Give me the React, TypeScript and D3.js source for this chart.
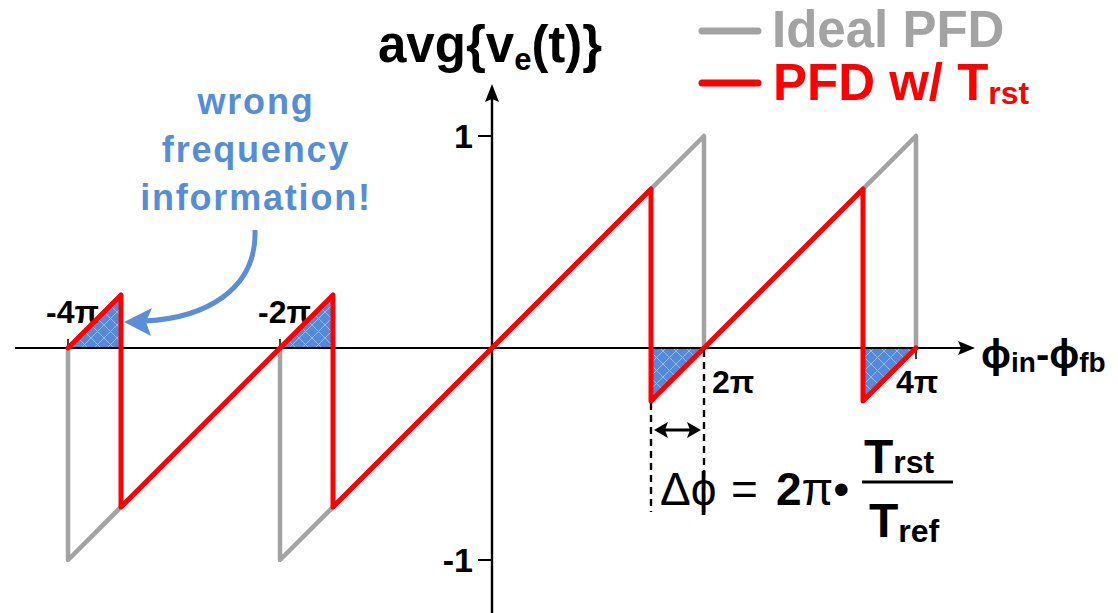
import React from "react";
import * as d3 from "d3";

// phase in units of π, value in units of "1"
const idealPhi = [-4, -4, -2, -2, 0, 2, 2, 4, 4];
const idealVal = [0, -1, 0, -1, 0, 1, 0, 1, 0];
const trstPhi = [-4, -3.5, -3.5, -1.5, -1.5, 1.5, 1.5, 3.5, 3.5, 4];
const trstVal = [0, 0.25, -0.75, 0.25, -0.75, 0.75, -0.25, 0.75, -0.25, 0];
const hatchPhi = [[-4, -3.5, -3.5], [-2, -1.5, -1.5], [1.5, 1.5, 2], [3.5, 3.5, 4]];
const hatchVal = [[0, 0.25, 0], [0, 0.25, 0], [0, -0.25, 0], [0, -0.25, 0]];
const xTicks = [-4, -2, 2, 4];
const xTickLabels = ["-4π", "-2π", "2π", "4π"];
const yTicks = [1, -1];
const yTickLabels = ["1", "-1"];
const legendLabels = ["Ideal PFD", "PFD w/ T"];
const annotationLines = ["wrong", "frequency", "information!"];

const W = 1118, H = 613;
const FONT = "'Liberation Sans', Arial, sans-serif";

export default function App() {
  const x = d3.scaleLinear().domain([-4, 4]).range([68, 916]);
  const y = d3.scaleLinear().domain([-1, 1]).range([560, 136]);
  const line = d3.line<[number, number]>().x(d => x(d[0])).y(d => y(d[1]));
  const idealPts = idealPhi.map((p, i) => [p, idealVal[i]] as [number, number]);
  const trstPts = trstPhi.map((p, i) => [p, trstVal[i]] as [number, number]);
  const x0 = x(0), y0 = y(0);
  const gray = "#a3a3a3";
  const red = "#ff0000";
  const blue = "#558ed5";

  return (
    <svg width={W} height={H} style={{ position: "absolute", left: 0, top: 0, display: "block", background: "#fff" }} fontFamily={FONT}>
      <defs>
        <pattern id="hatch" patternUnits="userSpaceOnUse" width={13} height={13}>
          <rect width={13} height={13} fill="#558ad8" />
          <path d="M0,0 L13,13 M13,0 L0,13" stroke="#97b7ea" strokeWidth={1} />
        </pattern>
      </defs>

      {/* ideal PFD */}
      <path d={line(idealPts) || ""} fill="none" stroke={gray} strokeWidth={4.5} strokeLinejoin="round" />

      {/* hatched error regions */}
      {hatchPhi.map((ph, i) => (
        <path key={i} d={(line(ph.map((p, j) => [p, hatchVal[i][j]] as [number, number])) || "") + "Z"} fill="url(#hatch)" />
      ))}

      {/* axes */}
      <line x1={15} y1={y0} x2={962} y2={y0} stroke="#000" strokeWidth={2.2} />
      <path d={`M975,${y0} L958,${y0 - 7} L961,${y0} L958,${y0 + 7} Z`} fill="#000" />
      <line x1={x0} y1={H} x2={x0} y2={98} stroke="#000" strokeWidth={2.4} />
      <path d={`M${x0},84 L${x0 - 7},102 L${x0},99 L${x0 + 7},102 Z`} fill="#000" />

      {/* x ticks */}
      {xTicks.map((t, i) => (
        <g key={t}>
          {t < 0 && <line x1={x(t)} x2={x(t)} y1={y0 - 9} y2={y0} stroke="#000" strokeWidth={1.5} />}
          {t > 2 && <line x1={x(t)} x2={x(t)} y1={y0} y2={y0 + 11} stroke="#000" strokeWidth={1.5} />}
          <text
            x={t < 0 ? x(t) - 22 : x(t) + 8 - (t > 2 ? 28 : 0)}
            y={t < 0 ? y0 - 25 : y0 + 45}
            fontSize={32}
            fontWeight="bold"
            fill="#000"
          >{xTickLabels[i]}</text>
        </g>
      ))}

      {/* y ticks */}
      {yTicks.map((t, i) => (
        <g key={t}>
          <line x1={x0 - 14} x2={x0} y1={y(t)} y2={y(t)} stroke="#000" strokeWidth={2} />
          <text x={x0 - 19} y={y(t) + 12} fontSize={34} fontWeight="bold" textAnchor="end" fill="#000">{yTickLabels[i]}</text>
        </g>
      ))}

      {/* PFD with reset delay */}
      <path d={line(trstPts) || ""} fill="none" stroke={red} strokeWidth={5} strokeLinejoin="round" strokeLinecap="round" />

      {/* Δφ dashed markers */}
      <line x1={x(1.5)} x2={x(1.5)} y1={y(-0.25) + 2} y2={512} stroke="#000" strokeWidth={2.4} strokeDasharray="7,5" />
      <line x1={x(2)} x2={x(2)} y1={y0 + 2} y2={512} stroke="#000" strokeWidth={2.4} strokeDasharray="7,5" />
      <line x1={x(1.5) + 8} x2={x(2) - 8} y1={430} y2={430} stroke="#000" strokeWidth={3} />
      <path d={`M${x(1.5) + 3},430 L${x(1.5) + 17},422 L${x(1.5) + 14},430 L${x(1.5) + 17},438 Z`} fill="#000" />
      <path d={`M${x(2) - 3},430 L${x(2) - 17},422 L${x(2) - 14},430 L${x(2) - 17},438 Z`} fill="#000" />

      {/* title */}
      <text x={378} y={62} fontSize={51} fontWeight="bold" fill="#000">
        avg{"{"}v<tspan fontSize={31} dy={8}>e</tspan><tspan dy={-8}>(t)</tspan>{"}"}
      </text>

      {/* legend */}
      <line x1={702} x2={758} y1={31} y2={31} stroke={gray} strokeWidth={7} strokeLinecap="round" />
      <text x={772} y={47} fontSize={51} fontWeight="bold" fill={gray}>{legendLabels[0]}</text>
      <line x1={702} x2={758} y1={83} y2={83} stroke={red} strokeWidth={7} strokeLinecap="round" />
      <text x={773} y={100} fontSize={51} fontWeight="bold" fill={red}>
        {legendLabels[1]}<tspan fontSize={32} dy={4}>rst</tspan>
      </text>

      {/* annotation */}
      {annotationLines.map((s, i) => (
        <text key={s} x={256} y={114 + i * 48} fontSize={36} fontWeight="bold" fill={blue} textAnchor="middle" letterSpacing={1.8}>{s}</text>
      ))}
      <path d="M255,230 C257,290 205,318 145,321" fill="none" stroke="#5a8fd7" strokeWidth={5} />
      <path d="M124,322 L152,308 L146,322 L151,336 Z" fill="#5a8fd7" />

      {/* x axis label */}
      <text x={981} y={368} fontSize={40} fontWeight="bold" fill="#000">
        ϕ<tspan fontSize={28} dy={4}>in</tspan><tspan fontSize={40} dy={-4}>-</tspan>ϕ<tspan fontSize={28} dy={4}>fb</tspan>
      </text>

      {/* formula */}
      <text x={660} y={505} fontSize={46} fill="#000">Δϕ</text>
      <text x={731} y={505} fontSize={46} fill="#000">=</text>
      <text x={776} y={505} fontSize={46} fill="#000"><tspan fontWeight="bold">2</tspan>π•</text>
      <line x1={862} x2={953} y1={482} y2={482} stroke="#000" strokeWidth={3} />
      <text x={864} y={473} fontSize={48} fontWeight="bold" fill="#000">T<tspan fontSize={32}>rst</tspan></text>
      <text x={869} y={537} fontSize={48} fontWeight="bold" fill="#000">T<tspan fontSize={32} dy={5}>ref</tspan></text>
    </svg>
  );
}
